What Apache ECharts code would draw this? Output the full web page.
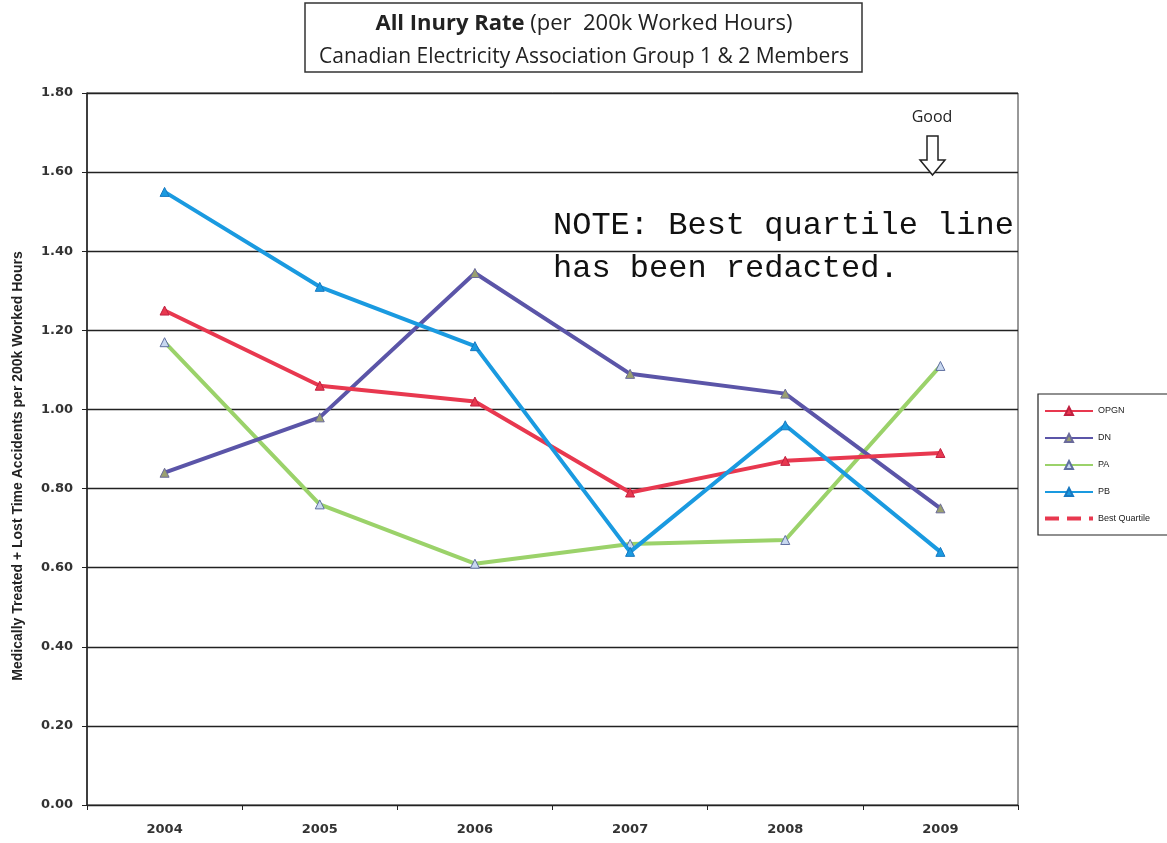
<!DOCTYPE html>
<html><head><meta charset="utf-8">
<script src="https://cdn.jsdelivr.net/npm/echarts@6/dist/echarts.min.js"></script>
<style>html,body{margin:0;padding:0;background:#fff}#c{width:1167px;height:843px}</style>
</head><body><div id="c"></div>
<script>
const years = ['2004','2005','2006','2007','2008','2009'];
const opgn = [1.25, 1.06, 1.02, 0.79, 0.87, 0.89];
const dn = [0.84, 0.98, 1.345, 1.09, 1.04, 0.75];
const pa = [1.17, 0.76, 0.61, 0.66, 0.67, 1.11];
const pb = [1.55, 1.31, 1.16, 0.64, 0.96, 0.64];
const bestQuartile = [null, null, null, null, null, null];
const yTicks = {min: 0, max: 1.8, interval: 0.2};
const yTitle = 'Medically Treated + Lost Time Accidents per 200k Worked Hours';

const chart = echarts.init(document.getElementById('c'));
function ser(name, data, color, mColor, mBorder, z) {
  return {name, type:'line', data, symbol:'triangle', symbolSize:9, z,
    lineStyle:{color, width:4}, itemStyle:{color:mColor, borderColor:mBorder, borderWidth:1}};
}
chart.setOption({
  animation:false,
  grid:{left:87, right:149, top:93, bottom:38, show:true, borderColor:'#333', borderWidth:1,
    containLabel:false, outerBoundsMode:'none'},
  legend:{orient:'vertical', left:1038, top:394, itemWidth:48, itemHeight:10, itemGap:17,
    borderColor:'#222', borderWidth:1.2, padding:[12,70,12,6],
    textStyle:{fontSize:9, color:'#222', fontFamily:'Liberation Sans'},
    data:['OPGN','DN','PA','PB',
      {name:'Best Quartile', icon:'path://M0,3h14v4h-14z M22,3h14v4h-14z M44,3h4v4h-4z'}]},
  xAxis:{type:'category', data:years, boundaryGap:true,
    axisLine:{lineStyle:{color:'#222', width:1}}, axisTick:{show:true, lineStyle:{color:'#222'}},
    axisLabel:{fontSize:13, fontWeight:'bold', color:'#333', margin:18, fontFamily:'DejaVu Sans'}},
  yAxis:{type:'value', min:yTicks.min, max:yTicks.max, interval:yTicks.interval,
    axisLine:{show:true, lineStyle:{color:'#222', width:1.5}}, axisTick:{show:true, length:5, lineStyle:{color:'#222'}},
    axisLabel:{fontSize:13, fontWeight:'bold', color:'#333', margin:14, formatter:v=>v.toFixed(2), fontFamily:'DejaVu Sans'},
    splitLine:{lineStyle:{color:'#222', width:1.3}}},
  series:[
    ser('OPGN', opgn, '#e8384f', '#e8384f', '#c02040', 4),
    ser('DN', dn, '#5b55a8', '#9aa070', '#6a6a9a', 3),
    ser('PA', pa, '#9bd26a', '#c8d8f0', '#6070a0', 2),
    ser('PB', pb, '#1a9ae0', '#1a9ae0', '#1878c0', 5),
    {name:'Best Quartile', type:'line', data:bestQuartile, symbol:'none',
      lineStyle:{color:'#e8384f', width:4, type:[12,10]}, itemStyle:{color:'#e8384f'}}
  ],
  graphic:[
    {type:'rect', shape:{x:305, y:3, width:557, height:69}, style:{fill:'#fff', stroke:'#333', lineWidth:1.5}},
    {type:'text', x:584, y:24, style:{text:'{b|All Inury Rate} (per  200k Worked Hours)', align:'center', verticalAlign:'middle',
      font:'22px "Open Sans"', fill:'#222', rich:{b:{font:'bold 22px "Open Sans"', fill:'#222'}}}},
    {type:'text', x:584, y:57, style:{text:'Canadian Electricity Association Group 1 & 2 Members', align:'center', verticalAlign:'middle',
      font:'21px "Open Sans"', fill:'#222'}},
    {type:'text', x:18, y:466, rotation:Math.PI/2, style:{text:yTitle, align:'center', verticalAlign:'middle',
      font:'bold 14px "Liberation Sans"', fill:'#222'}},
    {type:'text', x:932, y:117, style:{text:'Good', align:'center', verticalAlign:'middle', font:'16px "Open Sans"', fill:'#222'}},
    {type:'polygon', shape:{points:[[927,136],[938,136],[938,160],[945,160],[932.5,175],[920,160],[927,160]]},
      style:{fill:'#fff', stroke:'#222', lineWidth:1.5}, z:10},
    {type:'text', x:553, y:204, style:{text:'NOTE: Best quartile line\nhas been redacted.',
      font:'32px "Liberation Mono"', lineHeight:43, fill:'#111'}, z:10}
  ]
});
</script></body></html>
